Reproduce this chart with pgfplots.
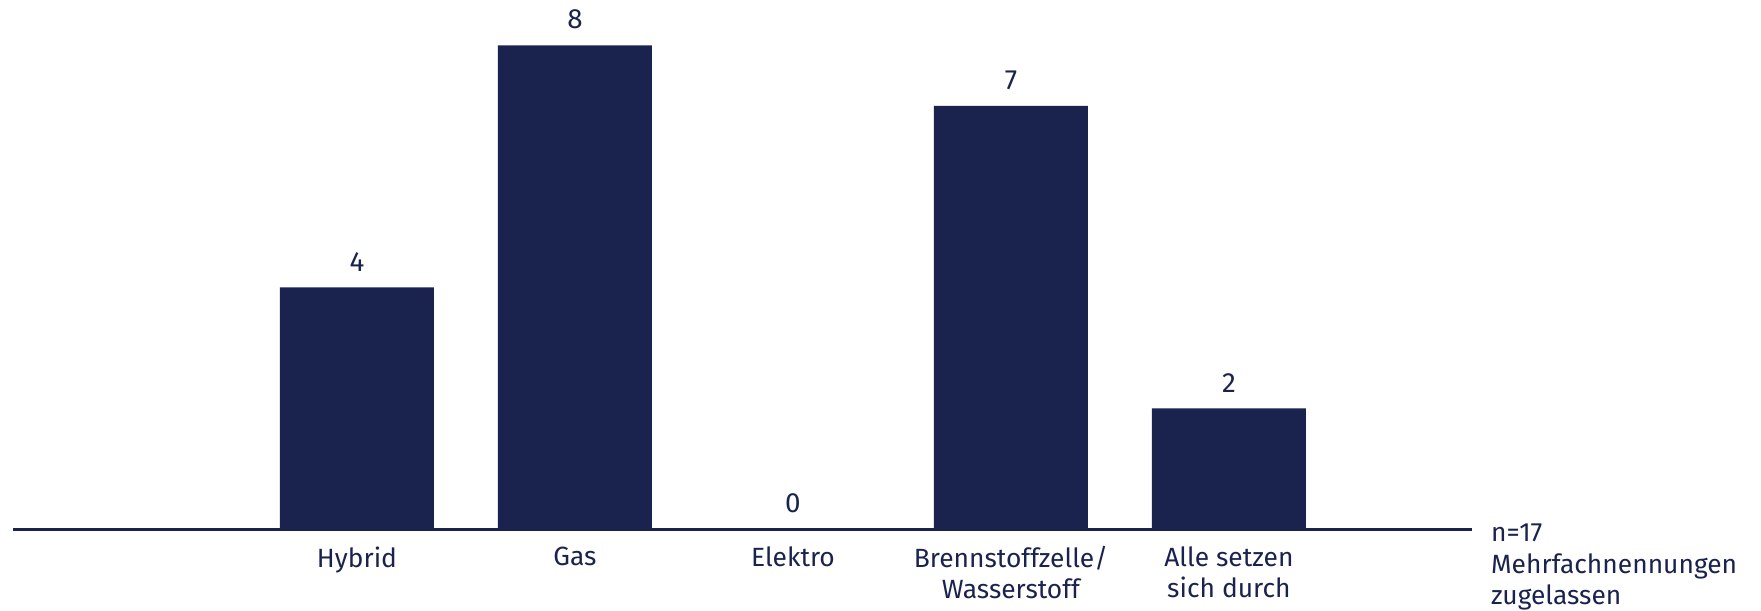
\documentclass[border=0pt]{standalone}
\usepackage{pgfplots}
\pgfplotsset{compat=1.18}
\usepackage{fontspec}
\setmainfont{Fira Sans}
\definecolor{navy}{RGB}{26,35,78}

\begin{document}
\begin{tikzpicture}
\begin{axis}[
  scale only axis,
  width=525.24pt, height=190.55pt,
  xmin=-1.578, xmax=5.115,
  ymin=0, ymax=8.749,
  axis x line=bottom,
  axis y line=none,
  axis line style={navy, line width=0.9pt, -},
  xtick=data,
  xticklabels={Hybrid, Gas, Elektro, {Brennstoffzelle/\\Wasserstoff}, {Alle setzen\\sich durch}},
  major tick length=0pt,
  xticklabel style={align=center, anchor=north, inner sep=0pt, yshift=-6pt,
    font=\fontsize{9.5}{11.1}\selectfont, text=navy},
  /pgf/number format/assume math mode=true,
  ybar,
  bar width=55.44pt,
  clip=false,
  nodes near coords,
  nodes near coords style={font=\fontsize{10}{12}\selectfont, text=navy,
    anchor=south, inner sep=0pt, yshift=5.6pt},
]
\addplot[fill=navy, draw=none] coordinates {(0,4) (1,8) (2,0) (3,7) (4,2)};
\node[anchor=north west, align=left, inner sep=0pt, xshift=6.7pt, yshift=2.1pt,
  font=\fontsize{9.5}{11.3}\selectfont, text=navy]
  at (rel axis cs:1,0) {n=17\\Mehrfachnennungen\\zugelassen};
\end{axis}
\pgfresetboundingbox
\path[use as bounding box] (-4.68pt,-29.05pt) rectangle ++(633.96pt,219.6pt);
\end{tikzpicture}
\end{document}
